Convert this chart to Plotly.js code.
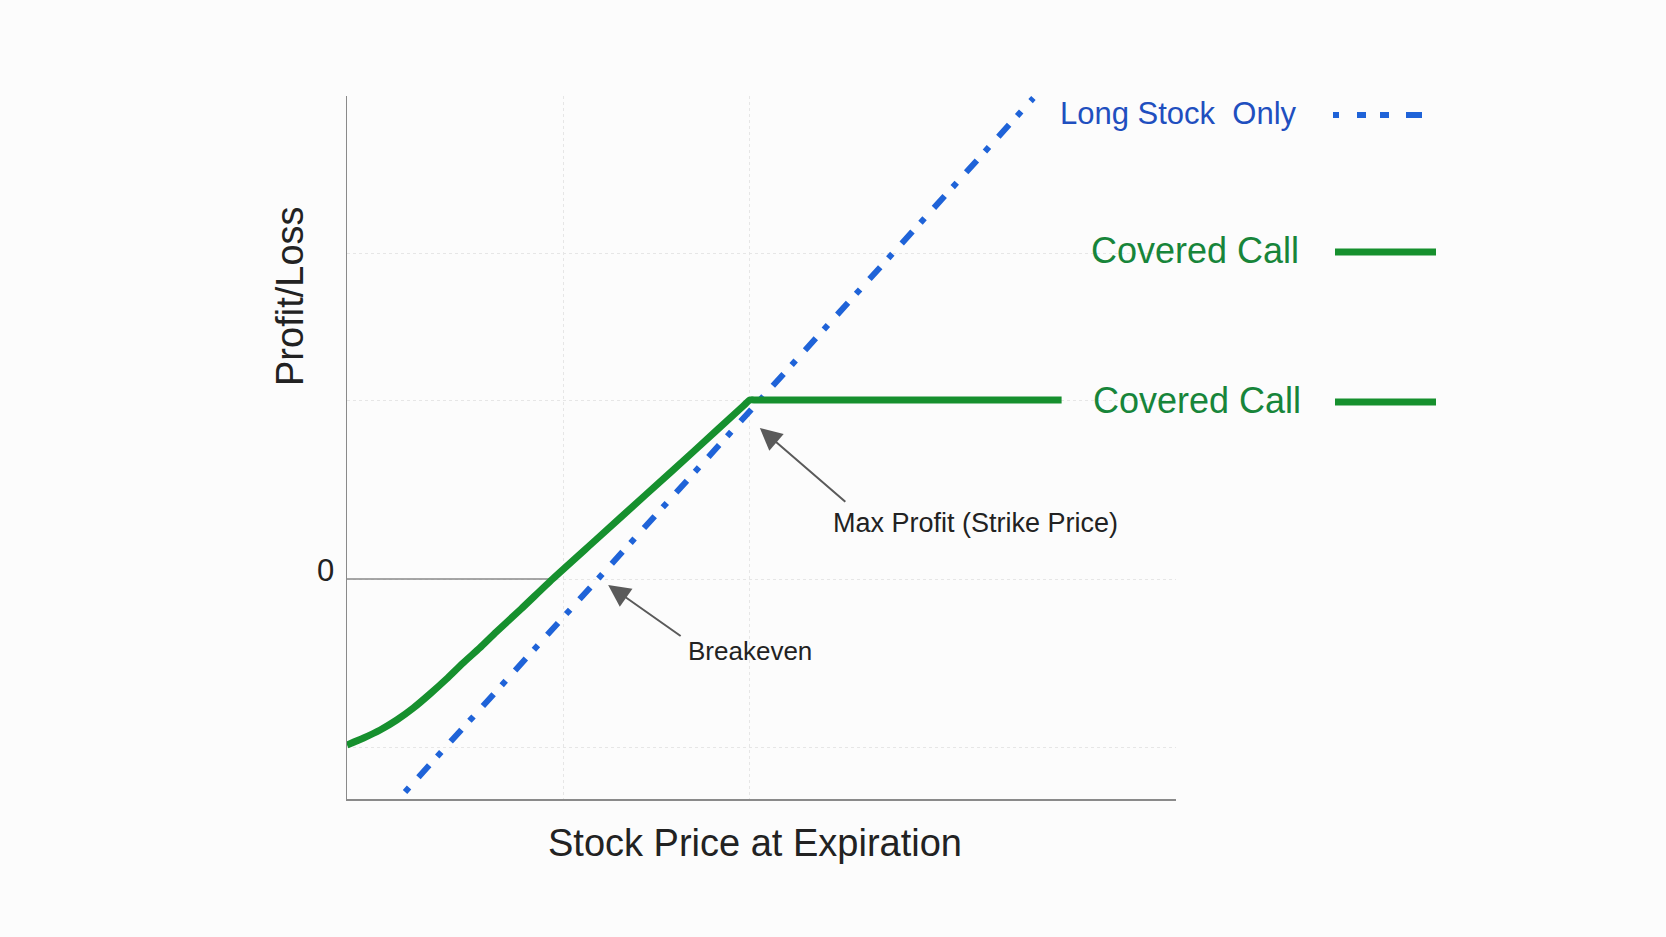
<!DOCTYPE html>
<html>
<head>
<meta charset="utf-8">
<script src="https://cdn.plot.ly/plotly-3.0.1.min.js"></script>
<style>
  html, body { margin: 0; padding: 0; background: #fcfcfc; }
  #chart { width: 1666px; height: 937px; }
</style>
</head>
<body>
<div id="chart"></div>
<script>
// ---- data ----
const coveredCallX = [0, 2, 4, 6, 8, 10, 12, 14, 16, 18, 21, 24.8, 30, 36, 42, 47.8, 48.6, 49.4, 60, 72, 86.2];
const coveredCallY = [-16.6, -15.9, -15.1, -14.1, -12.9, -11.5, -10.0, -8.4, -6.9, -5.3, -3.0, 0, 3.9, 8.4, 12.9, 17.3, 17.9, 17.9, 17.9, 17.9, 17.9];
const longStockX = [7, 30.2, 55, 82.8];
const longStockY = [-21.3, 0, 22.7, 48.1];
const zeroLineX = [0, 24.8];
const zeroLineY = [0, 0];
const strikePoint = {x: 49.8, y: 15.1};
const breakevenPoint = {x: 31.5, y: -0.6};
const gridX = [26.1, 48.6];
const gridY = [-16.8, 0, 17.9, 32.6, 48.4];
const gridYText = ['', '0', '', '', ''];
const legendNames = ['Long Stock  Only', 'Covered Call', 'Covered Call'];

// ---- layout helpers (pixel -> paper) ----
const L = 347, R = 1176, T = 96, B = 799;
const px = v => (v - L) / (R - L);
const py = v => (B - v) / (B - T);

const FONT = 'Liberation Sans, Arial, Helvetica, sans-serif';
const BLUE = '#1f63d8';
const GREEN = '#16902e';

const traces = [
  {x: zeroLineX, y: zeroLineY, mode: 'lines', line: {color: '#8a8a8a', width: 1.5}, hoverinfo: 'skip', showlegend: false},
  {x: longStockX, y: longStockY, mode: 'lines', name: legendNames[0],
   line: {color: BLUE, width: 6, dash: '6px,14px,16px,12px'}, showlegend: false},
  {x: coveredCallX, y: coveredCallY, mode: 'lines', name: legendNames[1],
   line: {color: GREEN, width: 7, shape: 'spline', smoothing: 0.6}, showlegend: false}
];

const annotations = [
  // axis titles
  {text: 'Stock Price at Expiration', xref: 'paper', yref: 'paper', x: px(755), y: py(843),
   xanchor: 'center', yanchor: 'middle', showarrow: false, font: {family: FONT, size: 38, color: '#222'}},
  {text: 'Profit/Loss', xref: 'paper', yref: 'paper', x: px(290), y: py(296), textangle: -90,
   xanchor: 'center', yanchor: 'middle', showarrow: false, font: {family: FONT, size: 38, color: '#222'}},
  // callouts
  {text: '', x: strikePoint.x, y: strikePoint.y, xref: 'x', yref: 'y', showarrow: true,
   ax: 87, ay: 75, arrowhead: 2, arrowsize: 2.2, arrowwidth: 2, arrowcolor: '#5a5a5a'},
  {text: 'Max Profit (Strike Price)', xref: 'paper', yref: 'paper', x: px(975), y: py(523),
   xanchor: 'center', yanchor: 'middle', showarrow: false, font: {family: FONT, size: 27, color: '#222'}},
  {text: '', x: breakevenPoint.x, y: breakevenPoint.y, xref: 'x', yref: 'y', showarrow: true,
   ax: 74, ay: 52, arrowhead: 2, arrowsize: 2.2, arrowwidth: 2, arrowcolor: '#5a5a5a'},
  {text: 'Breakeven', xref: 'paper', yref: 'paper', x: px(750), y: py(651),
   xanchor: 'center', yanchor: 'middle', showarrow: false, font: {family: FONT, size: 26, color: '#222'}},
  // custom legend text
  {text: legendNames[0], xref: 'paper', yref: 'paper', x: px(1299), y: py(113),
   xanchor: 'right', yanchor: 'middle', showarrow: false, font: {family: FONT, size: 31, color: '#1f4fbf'}},
  {text: legendNames[1], xref: 'paper', yref: 'paper', x: px(1301), y: py(250),
   xanchor: 'right', yanchor: 'middle', showarrow: false, font: {family: FONT, size: 36, color: '#17853a'}},
  {text: legendNames[2], xref: 'paper', yref: 'paper', x: px(1303), y: py(400),
   xanchor: 'right', yanchor: 'middle', showarrow: false, font: {family: FONT, size: 36, color: '#17853a'}}
];

const shapes = [
  {type: 'line', xref: 'paper', yref: 'paper', x0: px(1333), x1: px(1424), y0: py(115), y1: py(115),
   line: {color: BLUE, width: 6, dash: '6px,18px,9px,14px,9px,17px,16px'}},
  {type: 'line', xref: 'paper', yref: 'paper', x0: px(1335), x1: px(1436), y0: py(252), y1: py(252),
   line: {color: GREEN, width: 7}},
  {type: 'line', xref: 'paper', yref: 'paper', x0: px(1335), x1: px(1436), y0: py(402), y1: py(402),
   line: {color: GREEN, width: 7}}
];

const layout = {
  width: 1666, height: 937,
  margin: {l: L, r: 1666 - R, t: T, b: 937 - B, pad: 0},
  paper_bgcolor: '#fcfcfc', plot_bgcolor: '#fcfcfc',
  showlegend: false,
  xaxis: {range: [0, 100], tickvals: gridX, showticklabels: false, ticks: '',
          showgrid: true, gridcolor: '#e6e6e6', griddash: 'dot', gridwidth: 1,
          zeroline: false, showline: true, linecolor: '#8a8a8a', linewidth: 1.5, fixedrange: true},
  yaxis: {range: [-22, 48.3], tickvals: gridY, ticktext: gridYText, ticks: '',
          tickfont: {family: FONT, size: 31, color: '#222'}, ticklabelstandoff: 5, ticklabelshift: -9,
          showgrid: true, gridcolor: '#e6e6e6', griddash: 'dot', gridwidth: 1,
          zeroline: false, showline: true, linecolor: '#8a8a8a', linewidth: 1.5, fixedrange: true},
  annotations: annotations,
  shapes: shapes
};

Plotly.newPlot('chart', traces, layout, {displayModeBar: false, staticPlot: true});
</script>
</body>
</html>
